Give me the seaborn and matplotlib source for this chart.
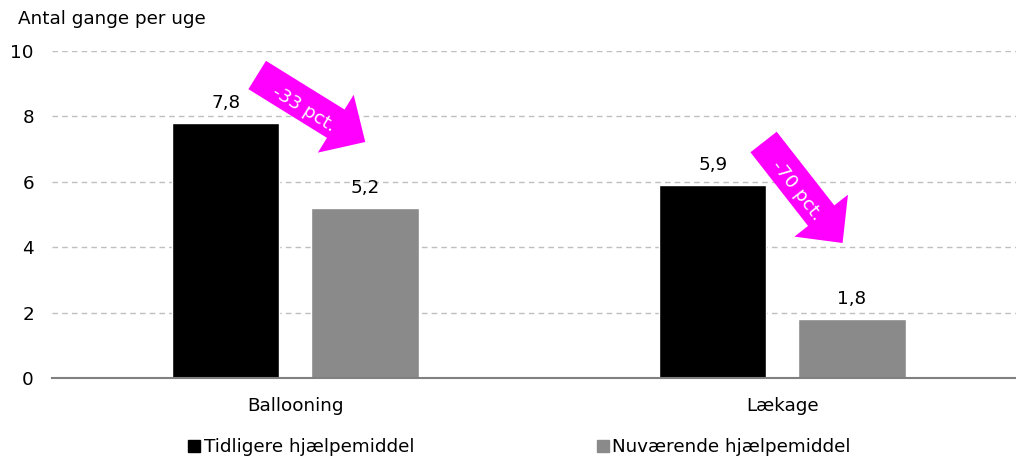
import numpy as np
import pandas as pd
import seaborn as sns
import matplotlib.pyplot as plt
from matplotlib.lines import Line2D

sns.set_style('white')
plt.rcParams['font.family'] = ['DejaVu Sans']
plt.rcParams['text.color'] = 'black'

categories = ['Ballooning', 'Lækage']
series = ['Tidligere hjælpemiddel', 'Nuværende hjælpemiddel']
tidligere = [7.8, 5.9]
nuvaerende = [5.2, 1.8]
changes = ['-33 pct.', '-70 pct.']
colors = ['#000000', '#8A8A8A']

df = pd.DataFrame({
    'kategori': categories * 2,
    'serie': [series[0]] * 2 + [series[1]] * 2,
    'vaerdi': tidligere + nuvaerende,
})

fs = 13.2
fig = plt.figure(figsize=(10.16, 4.59), dpi=100)
ax = fig.add_axes([0.0512, 0.1765, 0.9488, 0.7124])

sns.barplot(data=df, x='kategori', y='vaerdi', hue='serie', hue_order=series,
            palette=colors, saturation=1, width=0.572, gap=0.23,
            legend=False, ax=ax)

ax.set_ylim(0, 10)
ax.set_xlim(-0.5, 1.48)
ax.set_yticks(range(0, 11, 2))
ax.yaxis.grid(True, color='#BFBFBF', linestyle=(0, (4, 3)), linewidth=1)
ax.set_axisbelow(True)
ax.set_xlabel('')
ax.set_ylabel('')
for s in ['top', 'right', 'left']:
    ax.spines[s].set_visible(False)
ax.spines['bottom'].set_color('#808080')
ax.spines['bottom'].set_linewidth(1.5)
ax.tick_params(axis='both', length=0, labelsize=fs, colors='black')
ax.tick_params(axis='y', pad=13)
ax.tick_params(axis='x', pad=14)

for cont in ax.containers:
    ax.bar_label(cont, labels=[f'{v:.1f}'.replace('.', ',') for v in cont.datavalues],
                 padding=8, fontsize=fs)

fig.text(0.018, 1 - 19 / 459, 'Antal gange per uge', fontsize=fs, va='center')

# pile med procentfald
arrows = [((-0.0786, 9.266), (0.1434, 7.217), (0.0180, 8.23), -31.8),
          ((0.9615, 7.217), (1.1238, 4.128), (1.0310, 5.75), -52.0)]
for (tail, tip, txt, ang), lab in zip(arrows, changes):
    ax.annotate('', xy=tip, xytext=tail,
                arrowprops=dict(arrowstyle='simple,head_length=25,head_width=49,tail_width=24',
                                mutation_scale=1, color='#FF00FF', lw=0,
                                shrinkA=0, shrinkB=0))
    ax.text(txt[0], txt[1], lab, color='white', fontsize=fs, rotation=ang,
            rotation_mode='anchor', ha='center', va='center')

handles = [Line2D([], [], marker='s', linestyle='', color=c, markersize=8) for c in colors]
fig.legend(handles, series, loc='lower center', ncol=2, frameon=False,
           fontsize=fs, handlelength=0.8, handletextpad=0.1, columnspacing=9.9,
           bbox_to_anchor=(0.5106, -0.03))

fig.savefig('out.png', dpi=100)
